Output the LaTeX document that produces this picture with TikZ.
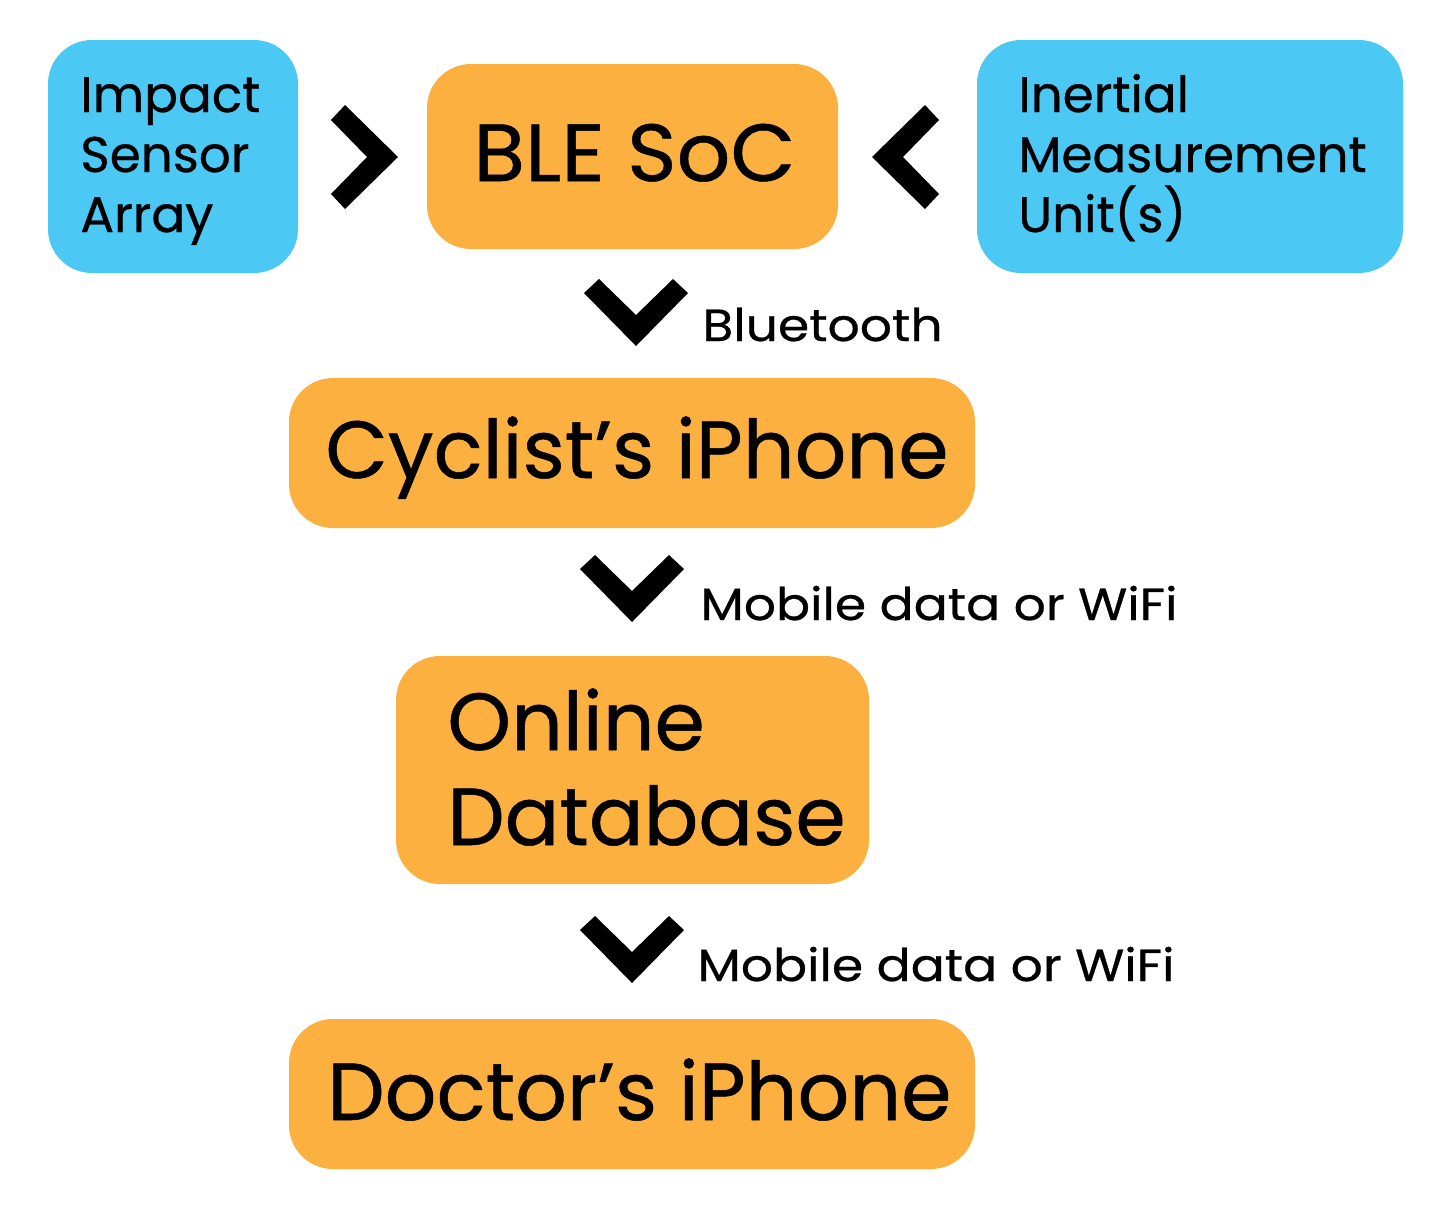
\documentclass[tikz,border=0pt]{standalone}
\usepackage{fontspec}
\setmainfont{Poppins}[FakeBold=0.6]
\newfontfamily\labelfont{Poppins}[FakeBold=0.6,FakeStretch=1.12]
\newfontfamily\widefont{Poppins}[FakeBold=0.6,FakeStretch=1.04]
\definecolor{skyblue}{HTML}{4CC8F4}
\definecolor{amber}{HTML}{FBB040}
\begin{document}
\begin{tikzpicture}[x=0.5pt,y=-0.5pt,
  bluebox/.style={fill=skyblue, rounded corners=22pt, inner sep=0pt},
  orangebox/.style={fill=amber, rounded corners=22pt, inner sep=0pt},
  midtext/.style={anchor=base west, inner sep=0pt, font=\fontsize{25}{30}\selectfont},
  bigtext/.style={anchor=base west, inner sep=0pt, font=\fontsize{40.5}{47}\selectfont},
  linklabel/.style={anchor=base west, inner sep=0pt, font=\labelfont\fontsize{22.5}{27}\selectfont},
  chevdown/.pic={\fill (-52,-53) -- (-37,-67) -- (0,-31) -- (37,-67) -- (52,-53) -- (0,0) -- cycle;},
  chevright/.pic={\fill (-67,-37) -- (-53,-52) -- (0,0) -- (-53,52) -- (-67,37) -- (-31,0) -- cycle;},
  chevleft/.pic={\fill (67,-37) -- (53,-52) -- (0,0) -- (53,52) -- (67,37) -- (31,0) -- cycle;}
]
\useasboundingbox[fill=white] (0,0) rectangle (1447,1228);

% boxes
\node[bluebox, minimum width=125pt, minimum height=116.5pt] (impact) at (173,156.5) {};
\node[orangebox, minimum width=205.5pt, minimum height=92.5pt] (ble) at (632.5,156.5) {};
\node[bluebox, minimum width=213pt, minimum height=116.5pt] (imu) at (1190,156.5) {};
\node[orangebox, minimum width=343pt, minimum height=75pt] (cyclist) at (632,453) {};
\node[orangebox, minimum width=236.5pt, minimum height=114pt] (online) at (632.5,770) {};
\node[orangebox, minimum width=343pt, minimum height=75pt] (doctor) at (632,1094) {};

% texts
\node[midtext] (impact1) at (80,112) {Impact};
\node[midtext] (impact2) at (80,172) {Sensor};
\node[midtext] (impact3) at (80,232) {Array};
\node[midtext] (imu1) at (1018,112) {Inertial};
\node[midtext] (imu2) at (1018,172) {Measurement};
\node[midtext] (imu3) at (1018,232) {Unit(s)};
\node[bigtext, font=\widefont\fontsize{40.5}{47}\selectfont] (bletext) at (473,181) {BLE SoC};
\node[bigtext] (cyclisttext) at (325,478) {Cyclist’s iPhone};
\node[bigtext] (online1) at (447,750) {Online};
\node[bigtext] (online2) at (447,845) {Database};
\node[bigtext] (doctortext) at (327,1120) {Doctor’s iPhone};

% link labels
\node[linklabel] (lab1) at (702,341) {Bluetooth};
\node[linklabel] (lab2) at (700,620) {Mobile data or WiFi};
\node[linklabel] (lab3) at (697,981) {Mobile data or WiFi};

% chevrons
\pic (c1) at (398,157) {chevright};
\pic (c2) at (872,157) {chevleft};
\pic (c3) at (636,346) {chevdown};
\pic (c4) at (632,622) {chevdown};
\pic (c5) at (632,983) {chevdown};
\end{tikzpicture}
\end{document}
